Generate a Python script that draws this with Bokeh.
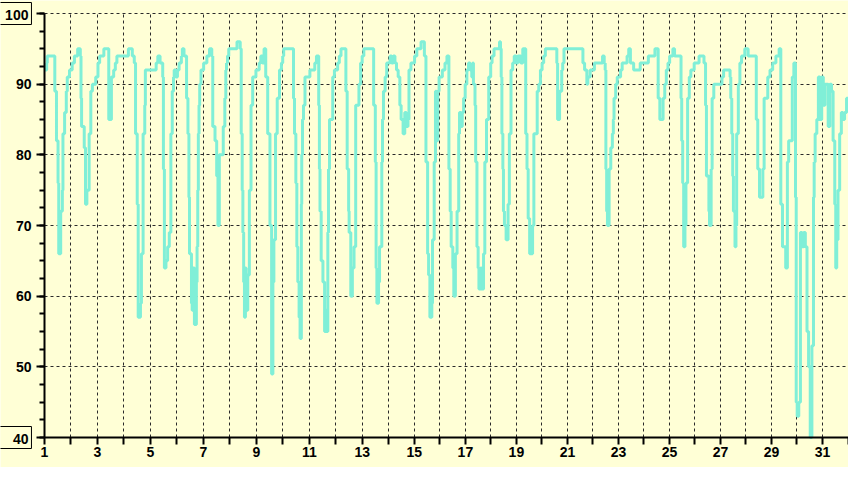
from bokeh.plotting import figure
from bokeh.models import Range1d, FixedTicker, SingleIntervalTicker, Label, Grid
from bokeh.embed import file_html
from bokeh.resources import INLINE

# sample number (plot index) and reading (%)
sample = [
    0, 2.2, 2.8, 10.5, 12.2, 13.8, 14.5, 16.5, 18.2, 18.8,
    20.5, 22.2, 23.2, 25.5, 28.2, 30.5, 33.8, 36.5, 37.2, 37.8,
    40.5, 41.8, 43.2, 45.5, 47.2, 48.8, 52.2, 54.5, 56.2, 60.5,
    65.5, 68.2, 70.5, 72.2, 73.8, 85.5, 89.5, 91.5, 92.8, 94.5,
    95.5, 97.8, 98.8, 100.5, 102.2, 102.8, 113.8, 115.5, 117.8, 120.5,
    121.2, 122.2, 123.8, 125.5, 127.2, 128.8, 130.2, 131.5, 132.2, 133.8,
    135.5, 137.2, 139.5, 140.5, 142.2, 144.8, 146.2, 147.2, 147.8, 149.8,
    150.5, 151.5, 152.8, 154.8, 155.5, 156.2, 156.8, 157.5, 158.2, 159.5,
    162.2, 165.5, 168.2, 170.5, 171.5, 173.8, 175.5, 176.8, 178.2, 182.2,
    183.8, 184.8, 185.5, 186.5, 187.8, 196.2, 199.5, 200.5, 201.5, 202.2,
    203, 203.8, 204.8, 205.5, 207.2, 208.8, 210.5, 212.2, 215.5, 218.8,
    220.5, 222.2, 223.8, 225.5, 227.5, 229.8, 231.5, 232.8, 233.8, 235.5,
    237.2, 239.5, 241.5, 242.8, 243.8, 253.8, 254.8, 256.2, 257.2, 258.2,
    259.5, 260.5, 261.8, 262.2, 263, 264, 265.5, 270.5, 275.5, 277.2,
    279.5, 280.2, 280.8, 282, 283.8, 285.5, 286.8, 287.8, 288.8, 289.5,
    290.5, 293.8, 295.5, 298.8, 300.5, 302.2, 307.2, 308.5, 310, 310.5,
    312.2, 313.8, 315.5, 317.2, 320.5, 322.2, 323.8, 325.5, 335.5, 337.2,
    338, 338.8, 340.5, 341.5, 343.8, 344.5, 345.5, 347.2, 348.8, 352.2,
    353.8, 355.5, 357.2, 358.8, 360.5, 362.2, 363.5, 365.5, 367.2, 368.8,
    370.5, 371.5, 373.5, 377.2, 379.5, 383.8, 387.2, 388.8, 390.5, 391.5,
    392.8, 394.8, 395.5, 397.2, 398.5, 399.5, 400.8, 402.2, 405.5, 408.2,
    410.2, 412.2, 413.5, 414.5, 416.2, 417.2, 418.8, 420.5, 422.2, 423,
    424.5, 425.8, 427.2, 428.8, 430.5, 432.2, 433.8, 435.5, 436.5, 437.2,
    438.8, 439.5, 440.8, 442, 442.8, 444.5, 445.5, 447.5, 448.8, 450.5,
    452.8, 454.8, 456.2, 458.2, 463.8, 464.8, 465.5, 466.2, 467.2, 467.8,
    468.8, 470.5, 472.5, 473.8, 475.5, 477.2, 478.8, 480.5, 482.5, 485.5,
    487.5, 490.5, 491.8, 493, 494.5, 497.5, 498.8, 502.2, 503.8, 505.5,
    507.2, 508.8, 510.5, 522.2, 523, 525, 527.2, 528.2, 529.5, 548.8,
    550.5, 552.8, 553.8, 556.2, 560.5, 568.8, 570.5, 571.5, 572.2, 573,
    573.8, 575.5, 577.2, 578.8, 579.8, 580.5, 582.2, 583.8, 587.2, 588.8,
    593.8, 595.5, 597.2, 600.5, 607.2, 615.5, 622.2, 625.5, 627.2, 630.5,
    632.2, 633.8, 635.5, 637.2, 640.5, 642.2, 648.8, 649.5, 650.5, 651.5,
    652.8, 653.8, 655.5, 657.2, 658.8, 662.2, 667.2, 672.2, 673.8, 674.7,
    677.2, 677.8, 679.5, 680.5, 682.2, 690.5, 692.2, 698.8, 699.5, 700.5,
    701.5, 702.2, 703.8, 704.8, 705.5, 707.2, 708.8, 710.5, 713.8, 717.2,
    725.5, 727, 728.8, 732.2, 733.5, 737.2, 739.5, 742.2, 745.5, 748.8,
    750.5, 752.2, 755.5, 757.2, 758.5, 762.2, 763.8, 765.5, 766.2, 767.2,
    768.8, 770.5, 772.2, 773.8, 775.5, 777.2, 778.8, 780.5, 782.2, 783.8,
    784.5, 785.5, 787.2, 788.8, 790.5, 792.2, 793.8, 795.5, 798.8, 800.5,
    802.2, 803.8, 805.5, 806.5, 807.5, 808.8, 810.5, 812.2, 813.8, 815.5,
    817.5, 819.5,
]
reading = [
    92, 93, 94, 89, 82, 76, 66, 72, 75, 83,
    86, 89, 91, 92, 93, 94, 95, 94, 88, 84,
    81, 73, 75, 83, 89, 90, 91, 93, 94, 95,
    85, 91, 92, 93, 94, 95, 94, 93, 83, 73,
    57, 59, 66, 83, 87, 92, 93, 94, 93, 91,
    78, 64, 65, 67, 69, 83, 89, 91, 92, 91,
    92, 93, 94, 95, 94, 88, 83, 74, 66, 59,
    58, 64, 56, 62, 67, 75, 83, 87, 90, 92,
    93, 94, 95, 94, 84, 82, 77, 70, 80, 84,
    88, 92, 93, 94, 95, 96, 95, 83, 75, 69,
    62, 57, 64, 58, 63, 75, 87, 91, 92, 93,
    94, 93, 95, 91, 83, 70, 49, 62, 68, 83,
    88, 92, 93, 94, 95, 88, 83, 76, 67, 62,
    57, 54, 73, 80, 85, 87, 91, 92, 93, 94,
    87, 78, 72, 65, 62, 55, 58, 55, 69, 78,
    85, 91, 92, 93, 94, 95, 89, 78, 72, 69,
    60, 64, 67, 87, 90, 93, 94, 95, 87, 79,
    64, 59, 62, 67, 79, 85, 89, 91, 93, 94,
    93, 94, 93, 92, 91, 87, 85, 83, 86, 84,
    85, 92, 93, 94, 95, 96, 94, 79, 66, 63,
    57, 59, 68, 79, 89, 82, 89, 91, 92, 93,
    94, 78, 72, 67, 64, 60, 66, 72, 83, 86,
    84, 86, 88, 90, 92, 93, 92, 91, 93, 90,
    87, 79, 67, 64, 61, 64, 61, 66, 79, 85,
    91, 93, 94, 95, 96, 95, 91, 83, 78, 72,
    70, 68, 73, 83, 92, 93, 94, 93, 94, 93,
    95, 83, 78, 71, 66, 70, 83, 89, 90, 92,
    93, 94, 95, 93, 85, 89, 92, 93, 95, 93,
    92, 90, 91, 92, 93, 94, 93, 92, 78, 72,
    70, 78, 81, 83, 85, 88, 90, 91, 92, 93,
    94, 95, 93, 92, 93, 94, 95, 88, 85, 88,
    90, 92, 93, 94, 95, 94, 88, 82, 76, 67,
    70, 76, 88, 91, 92, 93, 94, 93, 87, 77,
    72, 70, 78, 88, 90, 91, 92, 91, 88, 83,
    77, 72, 67, 70, 83, 90, 93, 94, 95, 94,
    85, 78, 74, 78, 88, 91, 92, 93, 94, 95,
    73, 67, 64, 79, 82, 91, 93, 74, 45, 43,
    45, 69, 67, 69, 67, 55, 50, 40, 53, 74,
    79, 83, 85, 91, 85, 91, 87, 90, 84, 90,
    89, 82, 73, 64, 68, 75, 83, 86, 85, 86,
    88, 88,
]

# sample number at which each day begins, and the day numbers
day_start = [0, 27, 54, 81, 108, 135, 162, 189, 216, 243, 270, 297, 324, 351,
             377, 403, 429, 455, 481, 507, 533, 559, 585, 611, 637, 663, 689,
             715, 741, 767, 793, 819]
day_number = list(range(1, 33))
y_min, y_max = 40, 100
x_end = 819.5

BG = "#FFFFD6"
LINE = "#80EFD7"
FONT = "Liberation Sans"

# the frame fills the canvas; axes are pinned at x=0 / y=40 inside it,
# leaving room on the left and bottom for the tick labels
p = figure(width=848, height=467, output_backend="svg", toolbar_location=None,
           x_range=Range1d(-44.85, x_end), y_range=Range1d(35.755, 101.84),
           min_border_left=0, min_border_right=0, min_border_top=0,
           min_border_bottom=0)
p.title.visible = False
p.background_fill_color = BG
p.border_fill_color = BG
p.outline_line_color = None

p.step(sample, reading, mode="after", line_width=3, line_color=LINE)

# x axis: one tick per day, odd days labelled
xticker = FixedTicker(ticks=day_start)
xa = p.xaxis[0]
xa.fixed_location = y_min
xa.bounds = (0, x_end)
xa.ticker = xticker
xa.major_label_overrides = {s: (str(d) if d % 2 == 1 else "")
                            for s, d in zip(day_start, day_number)}
xa.axis_line_width = 2
xa.axis_line_color = "black"
xa.major_tick_out = 7
xa.major_tick_in = 0
xa.major_tick_line_width = 2
xa.minor_tick_line_color = None
xa.major_label_standoff = 2
xa.major_label_text_font = FONT
xa.major_label_text_font_style = "bold"
xa.major_label_text_font_size = "14px"
xa.major_label_text_color = "black"

# y axis (range end labels drawn separately in boxes)
yticker = SingleIntervalTicker(interval=10, num_minor_ticks=4)
ya = p.yaxis[0]
ya.fixed_location = 0
ya.bounds = (y_min, y_max)
ya.ticker = yticker
ya.major_label_overrides = {y_min: "", y_max: ""}
ya.axis_line_width = 2
ya.axis_line_color = "black"
ya.major_tick_out = 8
ya.major_tick_in = 0
ya.major_tick_line_width = 2
ya.minor_tick_out = 5
ya.minor_tick_in = 0
ya.minor_tick_line_width = 2
ya.minor_tick_line_color = "black"
ya.major_label_standoff = 5
ya.major_label_text_font = FONT
ya.major_label_text_font_style = "bold"
ya.major_label_text_font_size = "14px"
ya.major_label_text_color = "black"

GRID_COLOR = "#2a2a2a"
if "cross_bounds" in Grid.properties():
    for g, t, b, cb in ((p.xgrid[0], xticker, (0, x_end), (y_min, y_max)),
                        (p.ygrid[0], yticker, (y_min, y_max), (0, x_end))):
        g.ticker = t
        g.bounds = b
        g.cross_bounds = cb
        g.grid_line_color = GRID_COLOR
        g.grid_line_dash = "3 3"
        g.grid_line_width = 1
else:
    p.xgrid.visible = False
    p.ygrid.visible = False
    y_grid = list(range(y_min + 10, y_max + 1, 10))
    p.segment(x0=day_start, y0=[y_min] * len(day_start), x1=day_start,
              y1=[y_max] * len(day_start), line_color=GRID_COLOR,
              line_dash="3 3", line_width=1, level="underlay")
    p.segment(x0=[0] * len(y_grid), y0=y_grid, x1=[x_end] * len(y_grid),
              y1=y_grid, line_color=GRID_COLOR, line_dash="3 3",
              line_width=1, level="underlay")

# boxed range end labels
for yv, padl in ((y_max, 8), (y_min, 17)):
    p.add_layout(Label(x=-13.3, y=yv, text=str(yv), text_align="right",
                       text_baseline="middle", text_font=FONT,
                       text_font_style="bold", text_font_size="14px",
                       text_color="black", background_fill_color=BG,
                       border_line_color="black", border_line_width=1,
                       padding=dict(left=padl, right=3, top=7, bottom=5)))

open("out.html", "w").write(file_html(p, INLINE))
